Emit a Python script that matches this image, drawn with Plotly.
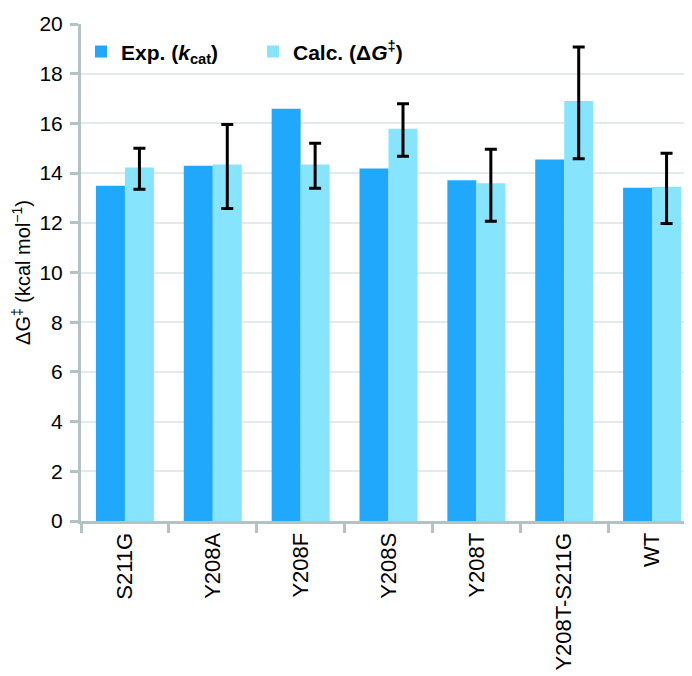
import plotly.graph_objects as go

categories = ["S211G", "Y208A", "Y208F", "Y208S", "Y208T", "Y208T-S211G", "WT"]
exp_values = [13.49, 14.30, 16.59, 14.19, 13.71, 14.55, 13.41]
calc_values = [14.23, 14.35, 14.35, 15.78, 13.59, 16.90, 13.45]
calc_err_plus = [0.77, 1.61, 0.85, 1.01, 1.37, 2.17, 1.35]
calc_err_minus = [0.88, 1.77, 0.96, 1.10, 1.53, 2.32, 1.48]
y_ticks = [0, 2, 4, 6, 8, 10, 12, 14, 16, 18, 20]

AXIS_COLOR = "#b3c3c3"
GRID_COLOR = "#e2eaea"
FONT = "Liberation Sans, Arial, sans-serif"

fig = go.Figure()
fig.add_trace(go.Bar(
    x=categories, y=exp_values,
    name="<b>Exp. (<i>k</i><sub>cat</sub>)</b>",
    marker=dict(color="#20a8fd", line=dict(width=0)),
))
fig.add_trace(go.Bar(
    x=categories, y=calc_values,
    name="<b>Calc. (Δ<i>G</i><sup>‡</sup>)</b>",
    marker=dict(color="#86e5fd", line=dict(width=0)),
    error_y=dict(type="data", symmetric=False, array=calc_err_plus,
                 arrayminus=calc_err_minus, color="black", thickness=3, width=6),
))

fig.update_layout(
    width=692, height=676,
    margin=dict(l=73, r=4, t=11, b=163),
    paper_bgcolor="white", plot_bgcolor="white",
    barmode="group", bargap=0.34, bargroupgap=0,
    font=dict(family=FONT, size=20, color="black"),
    showlegend=True,
    legend=dict(orientation="h", x=0.0, y=0.985, xanchor="left", yanchor="top",
                font=dict(family=FONT, size=21, color="black"),
                bgcolor="rgba(0,0,0,0)", itemwidth=30, tracegroupgap=0,
                entrywidth=127, entrywidthmode="pixels"),
    xaxis=dict(
        type="category", tickangle=-90,
        showline=True, linecolor=AXIS_COLOR, linewidth=3,
        ticks="outside", tickcolor=AXIS_COLOR, tickwidth=3, ticklen=9,
        tickson="boundaries", showgrid=False,
        tickfont=dict(family=FONT, size=22, color="black"),
    ),
    yaxis=dict(
        range=[0, 20], tickvals=y_ticks,
        showline=True, linecolor=AXIS_COLOR, linewidth=3,
        ticks="outside", tickcolor=AXIS_COLOR, tickwidth=3, ticklen=8,
        showgrid=True, gridcolor=GRID_COLOR, gridwidth=1.5,
        zeroline=False, ticklabeloverflow="allow", ticklabelstandoff=3,
        tickfont=dict(family=FONT, size=21, color="black"),
        title=dict(text="ΔG<sup>‡</sup> (kcal mol<sup>−1</sup>)",
                   font=dict(family=FONT, size=20, color="black"), standoff=4),
    ),
    shapes=[dict(type="line", xref="paper", yref="paper", x0=1, x1=1, y0=0, y1=1,
                 line=dict(color=GRID_COLOR, width=1.5))],
)

fig.write_html("out.html")
